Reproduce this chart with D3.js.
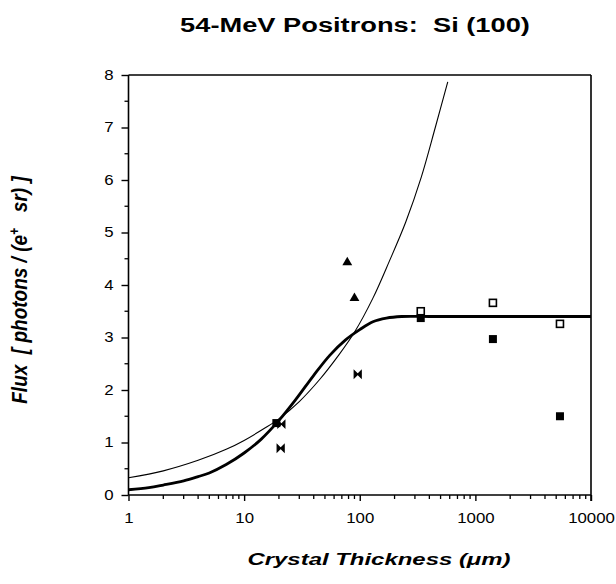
<!DOCTYPE html>
<html>
<head>
<meta charset="utf-8">
<script src="https://cdn.jsdelivr.net/npm/d3@7"></script>
<style>
  html, body { margin: 0; padding: 0; background: #fff; }
  svg { display: block; font-family: "Liberation Sans", Arial, Helvetica, sans-serif; }
</style>
</head>
<body>
<svg id="chart" width="616" height="584"></svg>
<script>
// 54-MeV positrons on Si (100): flux vs crystal thickness

// model curves (thickness in µm, flux)
const THICK_CURVE = [
  [1, 0.10], [1.5, 0.14], [2, 0.19], [3, 0.27], [4, 0.35], [5, 0.42], [7, 0.58],
  [10, 0.80], [14, 1.06], [20, 1.42], [28, 1.82], [40, 2.28], [55, 2.66], [75, 2.95],
  [100, 3.15], [130, 3.30], [170, 3.37], [230, 3.40], [400, 3.40], [1000, 3.40], [10000, 3.40]
];
const THIN_CURVE = [
  [1, 0.33], [2, 0.46], [4, 0.66], [7, 0.87], [10, 1.04], [15, 1.27], [20, 1.45],
  [30, 1.78], [45, 2.20], [65, 2.65], [90, 3.10], [130, 3.75], [180, 4.45],
  [250, 5.20], [340, 6.05], [450, 7.00], [577, 7.87]
];

// measured points
const TRIANGLES = [[78, 4.43], [90, 3.75]];
const CROSSES = [[21, 1.35], [20.7, 0.89], [96, 2.30]];
const FILLED_SQUARES = [[19, 1.37], [337, 3.37], [1418, 2.97], [5390, 1.50]];
const OPEN_SQUARES = [[337, 3.50], [1418, 3.66], [5390, 3.26]];

const X_TICKS = [1, 10, 100, 1000, 10000];
const Y_TICKS = [0, 1, 2, 3, 4, 5, 6, 7, 8];

const svg = d3.select("#chart");
const x = d3.scaleLog().domain([1, 10000]).range([128.5, 591]);
const y = d3.scaleLinear().domain([0, 8]).range([495, 75]);

// the scanned figure is stretched sideways, so text gets a horizontal scale
function wideText(sel, sx) {
  sel.each(function () {
    const t = d3.select(this);
    const tx = +t.attr("x") || 0, ty = +t.attr("y") || 0;
    t.attr("transform", `translate(${tx},${ty}) scale(${sx},1)`).attr("x", 0).attr("y", 0);
  });
}

// ── axes ──
const xAxis = d3.axisBottom(x)
  .tickValues(X_TICKS)
  .tickFormat(d3.format("d"))
  .tickSize(6).tickPadding(12);
const gx = svg.append("g").attr("transform", `translate(0,${y(0)})`).call(xAxis);

// minor log ticks
const minor = [];
for (let dec = 1; dec < 10000; dec *= 10)
  for (let k = 2; k <= 9; k++) minor.push(dec * k);
svg.append("g").selectAll("line").data(minor).join("line")
  .attr("x1", d => x(d)).attr("x2", d => x(d))
  .attr("y1", y(0)).attr("y2", y(0) + 4)
  .attr("stroke", "#000").attr("stroke-width", 1.3);

const yAxis = d3.axisLeft(y)
  .tickValues(Y_TICKS)
  .tickSize(7).tickPadding(8);
const gy = svg.append("g").attr("transform", `translate(${x(1)},0)`).call(yAxis);

svg.append("g").selectAll("line").data(d3.range(0.5, 8, 1)).join("line")
  .attr("x1", x(1) - 4).attr("x2", x(1))
  .attr("y1", d => y(d)).attr("y2", d => y(d))
  .attr("stroke", "#000").attr("stroke-width", 1.3);

[gx, gy].forEach(g => {
  g.select(".domain").attr("stroke", "#000").attr("stroke-width", 1.6);
  g.selectAll(".tick line").attr("stroke", "#000").attr("stroke-width", 1.4);
  g.selectAll(".tick text")
    .attr("fill", "#000")
    .style("font-size", "14px")
    .style("font-family", "'Liberation Sans', Arial, sans-serif");
});
gx.selectAll(".tick text").each(function () {
  const t = d3.select(this);
  t.attr("transform", `translate(0,${t.attr("y")}) scale(1.2,1)`).attr("y", 0);
});
gy.selectAll(".tick text").each(function () {
  const t = d3.select(this);
  t.attr("transform", `translate(${t.attr("x")},0) scale(1.2,1)`).attr("x", 0);
});
gx.select(".domain").attr("d", `M${x(1)},0H${x(10000)}`);
gy.select(".domain").attr("d", `M0,${y(0)}V${y(8)}`);

// frame: top and right
svg.append("line")
  .attr("x1", x(1)).attr("x2", x(10000)).attr("y1", y(8)).attr("y2", y(8))
  .attr("stroke", "#000").attr("stroke-width", 1.6);
svg.append("line")
  .attr("x1", x(10000)).attr("x2", x(10000)).attr("y1", y(8)).attr("y2", y(0) + 6)
  .attr("stroke", "#000").attr("stroke-width", 1.6);

// ── curves ──
const line = d3.line().x(d => x(d[0])).y(d => y(d[1])).curve(d3.curveCatmullRom.alpha(0.5));
svg.append("path").datum(THIN_CURVE)
  .attr("d", line).attr("fill", "none")
  .attr("stroke", "#000").attr("stroke-width", 1.1);
svg.append("path").datum(THICK_CURVE)
  .attr("d", line).attr("fill", "none")
  .attr("stroke", "#000").attr("stroke-width", 2.8);

// ── markers ──
svg.append("g").selectAll("path").data(TRIANGLES).join("path")
  .attr("transform", d => `translate(${x(d[0])},${y(d[1])})`)
  .attr("d", d3.symbol().type(d3.symbolTriangle).size(42)())
  .attr("fill", "#000");

svg.append("g").selectAll("path").data(CROSSES).join("path")
  .attr("transform", d => `translate(${x(d[0])},${y(d[1])})`)
  .attr("d", "M-3.5,-3.5L3.5,3.5L3.5,-3.5L-3.5,3.5Z")
  .attr("fill", "#000").attr("stroke", "#000").attr("stroke-width", 1.2);

svg.append("g").selectAll("rect").data(FILLED_SQUARES).join("rect")
  .attr("x", d => x(d[0]) - 4).attr("y", d => y(d[1]) - 4)
  .attr("width", 8).attr("height", 8)
  .attr("fill", "#000");

svg.append("g").selectAll("rect").data(OPEN_SQUARES).join("rect")
  .attr("x", d => x(d[0]) - 3.5).attr("y", d => y(d[1]) - 3.5)
  .attr("width", 7).attr("height", 7)
  .attr("fill", "#fff").attr("stroke", "#000").attr("stroke-width", 1.6);

// ── titles ──
svg.append("text")
  .attr("x", 355).attr("y", 32)
  .attr("text-anchor", "middle")
  .attr("xml:space", "preserve")
  .style("font-size", "20.5px").style("font-weight", "bold")
  .text("54-MeV Positrons:  Si (100)")
  .call(wideText, 1.33);

svg.append("text")
  .attr("x", 379).attr("y", 565)
  .attr("text-anchor", "middle")
  .style("font-size", "16.5px").style("font-weight", "bold").style("font-style", "italic")
  .text("Crystal Thickness (\u03bcm)")
  .call(wideText, 1.45);

const yl = svg.append("text")
  .attr("transform", "translate(27,290) rotate(-90) scale(1,1.2)")
  .attr("text-anchor", "middle")
  .style("font-size", "19px").style("font-weight", "bold").style("font-style", "italic")
  .attr("xml:space", "preserve");
yl.append("tspan").text("Flux  [ photons / (e");
yl.append("tspan").attr("dy", -7).style("font-size", "12px").text("+");
yl.append("tspan").attr("dy", 7).text("   sr) ]");
</script>
</body>
</html>
